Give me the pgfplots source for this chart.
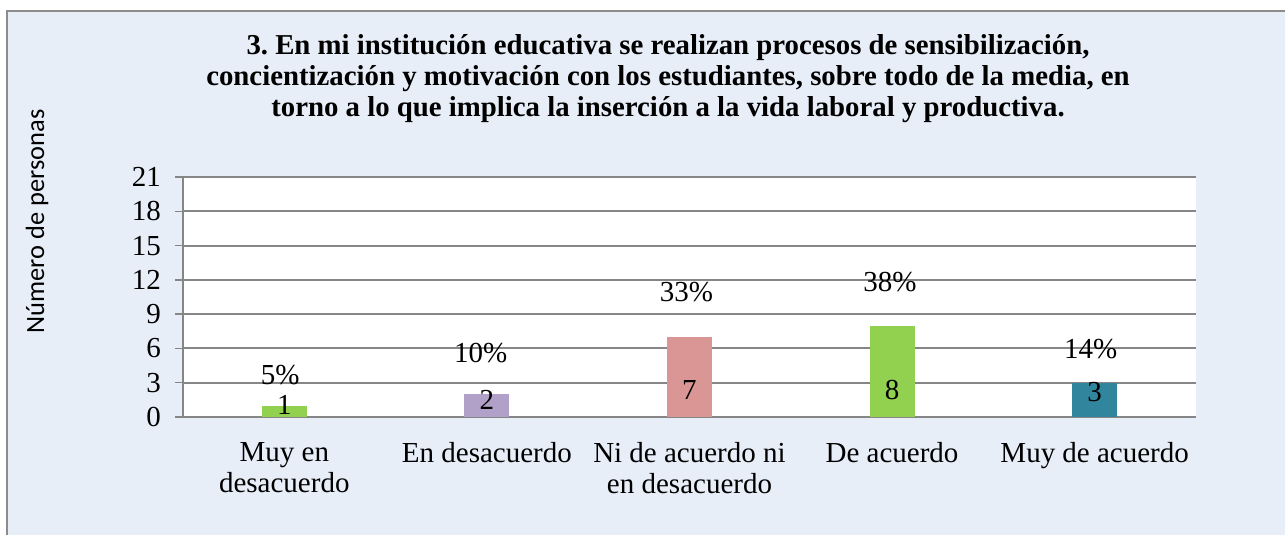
\documentclass[border=0pt]{standalone}
\usepackage{fontspec}
\setmainfont{Liberation Serif}
\newfontfamily\calibri{Carlito}
\usepackage{pgfplots}
\pgfplotsset{compat=1.18}
\definecolor{bgblue}{RGB}{231,238,248}
\definecolor{frame}{RGB}{140,140,140}
\definecolor{gridc}{RGB}{134,134,134}
\definecolor{cgreen}{RGB}{146,208,80}
\definecolor{cpurple}{RGB}{177,160,199}
\definecolor{cpink}{RGB}{217,150,148}
\definecolor{cteal}{RGB}{49,133,156}
\frenchspacing
\begin{document}
\begin{tikzpicture}
\useasboundingbox (-91.5pt,-59pt) rectangle (551pt,208.5pt);
\fill[bgblue] (-88pt,-62pt) rectangle (553pt,203pt);
\draw[frame,line width=0.8pt] (-88pt,-62pt) -- (-88pt,203pt) -- (553pt,203pt);
\begin{axis}[
    at={(0,0)}, anchor=south west,
    scale only axis,
    width=506.5pt, height=120pt,
    xmin=-0.5, xmax=4.5,
    ymin=0, ymax=21,
    ytick={0,3,...,21},
    xtick={0,1,2,3,4},
    xticklabels={{Muy en\\desacuerdo},{En desacuerdo},{Ni de acuerdo ni\\en desacuerdo},{De acuerdo},{Muy de acuerdo}},
    extra x ticks={-0.5,0.5,1.5,2.5,3.5,4.5},
    extra x tick labels={},
    extra x tick style={major tick length=4pt, tick style={gridc, line width=0.75pt}},
    axis lines*=left,
    axis line style={gridc, line width=0.9pt},
    tick align=outside,
    major tick length=4pt,
    x tick style={draw=none},
    y tick style={gridc, line width=0.75pt},
    ymajorgrids=true,
    grid style={gridc, line width=1pt},
    axis background/.style={fill=white},
    /pgf/number format/assume math mode=true,
    tick label style={font=\fontsize{14.5}{15.5}\selectfont},
    xticklabel style={align=center, yshift=-5pt},
    yticklabel style={xshift=-3.5pt},
    clip=false,
]
\addplot[ybar, bar width=22.5pt, bar shift=0pt, fill=cgreen, draw=none] coordinates {(0,1)};
\addplot[ybar, bar width=22.5pt, bar shift=0pt, fill=cpurple, draw=none] coordinates {(1,2)};
\addplot[ybar, bar width=22.5pt, bar shift=0pt, fill=cpink, draw=none] coordinates {(2,7)};
\addplot[ybar, bar width=22.5pt, bar shift=0pt, fill=cgreen, draw=none] coordinates {(3,8)};
\addplot[ybar, bar width=22.5pt, bar shift=0pt, fill=cteal, draw=none] coordinates {(4,3)};
% values inside the bars
\begin{scope}[every node/.style={font=\fontsize{14.5}{15.5}\selectfont, inner sep=0pt}]
\node at (axis cs:0,1.05) {1};
\node at (axis cs:1,1.5) {2};
\node at (axis cs:2,2.36) {7};
\node at (axis cs:3,2.36) {8};
\node at (axis cs:4,2.2) {3};
% percentages
\node at (axis cs:-0.02,3.67) {5\%};
\node at (axis cs:0.97,5.63) {10\%};
\node at (axis cs:1.985,10.96) {33\%};
\node at (axis cs:2.99,11.84) {38\%};
\node at (axis cs:3.98,5.92) {14\%};
\end{scope}
\end{axis}
\node[font=\fontsize{14.4}{15.5}\selectfont\bfseries, align=center] at (242.5pt,169pt)
  {3. En mi institución educativa se realizan procesos de sensibilización,\\
   concientización y motivación con los estudiantes, sobre todo de la media, en\\
   torno a lo que implica la inserción a la vida laboral y productiva.};
\node[font=\calibri\fontsize{13.2}{15}\selectfont, rotate=90] at (-73pt,97.75pt) {Número de personas};
\end{tikzpicture}
\end{document}
